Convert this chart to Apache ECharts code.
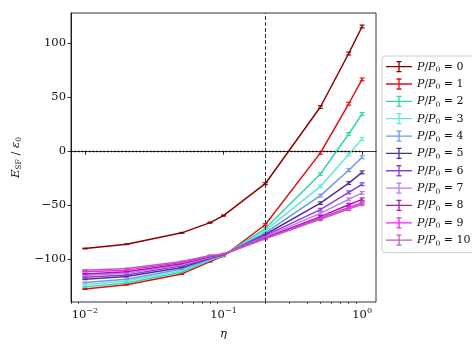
<!DOCTYPE html>
<html>
<head>
<meta charset="utf-8">
<script src="https://cdn.jsdelivr.net/npm/echarts@6/dist/echarts.min.js"></script>
<style>
  html, body { margin: 0; padding: 0; background: #fff; }
  #chart { width: 472px; height: 354px; }
</style>
</head>
<body>
<div id="chart"></div>
<script>
// eta values shared by every curve
const eta = [0.01, 0.02, 0.05, 0.08, 0.1, 0.2, 0.5, 0.8, 1.0]
const pressure = [0, 1, 2, 3, 4, 5, 6, 7, 8, 9, 10]

// E_SF / eps_0 for each P/P0
const esfP0 = [-90, -86, -75.5, -66, -59.5, -30, 41, 90.5, 115.5]
const esfP1 = [-127.5, -123.5, -113.5, -102, -97, -68, -1.5, 44, 66.5]
const esfP2 = [-125.5, -122, -112, -101, -96.5, -71.5, -21, 16, 34.5]
const esfP3 = [-123.5, -120, -110.5, -100.5, -96.5, -73.5, -32.5, -3, 11.5]
const esfP4 = [-121.5, -118.5, -109, -100, -96, -75.5, -41, -17.5, -5.5]
const esfP5 = [-118.5, -116, -107.5, -99, -96, -77, -48, -29.5, -19.5]
const esfP6 = [-116.5, -114.5, -106, -98.5, -95.5, -78, -54, -38, -30.5]
const esfP7 = [-115, -113, -105, -98, -95.5, -79, -57.5, -44.5, -38.5]
const esfP8 = [-113.5, -111.5, -104, -97.5, -95.5, -80, -60.5, -49.5, -44.5]
const esfP9 = [-111.5, -110, -103, -97, -95, -80.5, -62, -52, -47.5]
const esfP10 = [-110, -108.5, -102, -96.5, -95, -81, -63, -53.5, -49]
const curves = [esfP0, esfP1, esfP2, esfP3, esfP4, esfP5, esfP6, esfP7, esfP8, esfP9, esfP10]

// half length of the error bars
const errBar = [0.3, 0.3, 0.4, 0.5, 0.5, 0.9, 1.2, 1.3, 1.3]

// ticks
const xMajor = [0.01, 0.1, 1]
const xMinor = [0.008, 0.009, 0.02, 0.03, 0.04, 0.05, 0.06, 0.07, 0.08, 0.09,
  0.2, 0.3, 0.4, 0.5, 0.6, 0.7, 0.8, 0.9]
const yTicks = [-100, -50, 0, 50, 100]
const etaLine = 0.2

const colors = ['#8b0000', '#e01010', '#33d6a8', '#62e8da', '#6a98ee', '#5a2d91',
  '#8e3fd6', '#bb78f2', '#a01ea0', '#ff1aff', '#bb5fb5']

const FONT = 'DejaVu Serif'
const TXT = '#111'
const errIcon = 'path://M0,6h26v1.3H0z M12.35,1h1.3v11.3h-1.3z M10.5,1h5v1.3h-5z M10.5,11h5v1.3h-5z'

let series = []
curves.forEach((vals, i) => {
  const name = 'p' + pressure[i]
  const color = colors[i]
  series.push({
    type: 'line',
    name: name,
    data: eta.map((x, k) => [x, vals[k]]),
    showSymbol: false,
    lineStyle: { color: color, width: 1.5 },
    itemStyle: { color: color },
    emphasis: { disabled: true },
    silent: true
  })
  series.push({
    type: 'custom',
    name: name,
    data: eta.map((x, k) => [x, vals[k], errBar[k]]),
    encode: { x: 0, y: 1 },
    itemStyle: { color: color },
    silent: true,
    renderItem: (params, api) => {
      const x = api.value(0)
      const y = api.value(1)
      const e = api.value(2)
      const lo = api.coord([x, y - e])
      const hi = api.coord([x, y + e])
      const style = { stroke: color, lineWidth: 1.2 }
      return {
        type: 'group',
        children: [
          { type: 'line', shape: { x1: lo[0], y1: lo[1], x2: hi[0], y2: hi[1] }, style: style },
          { type: 'line', shape: { x1: lo[0] - 2.5, y1: lo[1], x2: lo[0] + 2.5, y2: lo[1] }, style: style },
          { type: 'line', shape: { x1: hi[0] - 2.5, y1: hi[1], x2: hi[0] + 2.5, y2: hi[1] }, style: style }
        ]
      }
    }
  })
})

// reference lines
series.push({
  type: 'line',
  data: [],
  silent: true,
  markLine: {
    silent: true,
    symbol: 'none',
    label: { show: false },
    animation: false,
    data: [
      { xAxis: etaLine, lineStyle: { color: '#333', width: 1, type: [4, 2] } },
      [{ coord: [0.00794, 0], lineStyle: { color: '#000', width: 1.4, type: [1.4, 2.2] } }, { coord: [1, 0] }]
    ]
  }
})

const chart = echarts.init(document.getElementById('chart'))
chart.setOption({
  animation: false,
  backgroundColor: '#fff',
  grid: {
    left: 71, right: 96, top: 13, bottom: 52,
    show: true, borderColor: '#000', borderWidth: 0.8
  },
  legend: {
    orient: 'vertical',
    left: 382,
    top: 56,
    padding: [5, 6, 5, 4],
    itemGap: 4.2,
    itemWidth: 26,
    itemHeight: 13,
    borderColor: '#cccccc',
    borderWidth: 1,
    borderRadius: 3,
    backgroundColor: '#fff',
    data: pressure.map(p => ({ name: 'p' + p, icon: errIcon })),
    formatter: name => '{i|P}{n|/}{i|P}{s|0}{n| = ' + name.slice(1) + '}',
    textStyle: {
      color: TXT,
      rich: {
        i: { fontFamily: FONT, fontStyle: 'italic', fontSize: 11, lineHeight: 15, color: TXT },
        n: { fontFamily: FONT, fontSize: 11, lineHeight: 15, color: TXT },
        s: { fontFamily: FONT, fontSize: 7.5, lineHeight: 9, verticalAlign: 'bottom', color: TXT }
      }
    }
  },
  xAxis: [{
    type: 'log',
    logBase: 10,
    min: 0.00794,
    max: 1.259,
    name: 'η',
    nameLocation: 'middle',
    nameGap: 26,
    nameTextStyle: { fontFamily: FONT, fontStyle: 'italic', fontSize: 11.5, color: TXT },
    axisLine: { lineStyle: { color: '#000', width: 0.8 } },
    axisTick: { customValues: xMajor, length: 3.5, lineStyle: { color: '#000', width: 0.8 } },
    axisLabel: {
      customValues: xMajor,
      margin: 5,
      formatter: v => {
        const p = Math.round(Math.log10(v))
        return '{b|10}{e|' + (p < 0 ? '\u2212' + (-p) : p) + '}'
      },
      rich: {
        b: { fontFamily: FONT, fontSize: 11.5, lineHeight: 16, color: TXT },
        e: { fontFamily: FONT, fontSize: 8, lineHeight: 9, verticalAlign: 'top', color: TXT }
      }
    },
    splitLine: { show: false }
  }, {
    type: 'log',
    logBase: 10,
    min: 0.00794,
    max: 1.259,
    position: 'bottom',
    axisLine: { show: false },
    axisTick: { customValues: xMinor, length: 2, lineStyle: { color: '#000', width: 0.6 } },
    axisLabel: { show: false },
    splitLine: { show: false }
  }],
  yAxis: {
    type: 'value',
    min: -139.5,
    max: 128,
    name: '{i|E}{s|SF}{n| / }{i|ε}{s|0}',
    nameLocation: 'middle',
    nameRotate: 90,
    nameGap: 40,
    nameTextStyle: {
      rich: {
        i: { fontFamily: FONT, fontStyle: 'italic', fontSize: 11.5, lineHeight: 15, color: TXT },
        n: { fontFamily: FONT, fontSize: 11.5, lineHeight: 15, color: TXT },
        s: { fontFamily: FONT, fontSize: 7.5, lineHeight: 9, verticalAlign: 'bottom', color: TXT }
      }
    },
    axisLine: { show: true, lineStyle: { color: '#000', width: 0.8 } },
    axisTick: { show: true, customValues: yTicks, length: 3.5, lineStyle: { color: '#000', width: 0.8 } },
    axisLabel: {
      customValues: yTicks,
      margin: 5,
      fontFamily: FONT,
      fontSize: 11.5,
      color: TXT,
      formatter: v => (v < 0 ? '\u2212' + (-v) : '' + v)
    },
    splitLine: { show: false }
  },
  series: series
})
</script>
</body>
</html>
